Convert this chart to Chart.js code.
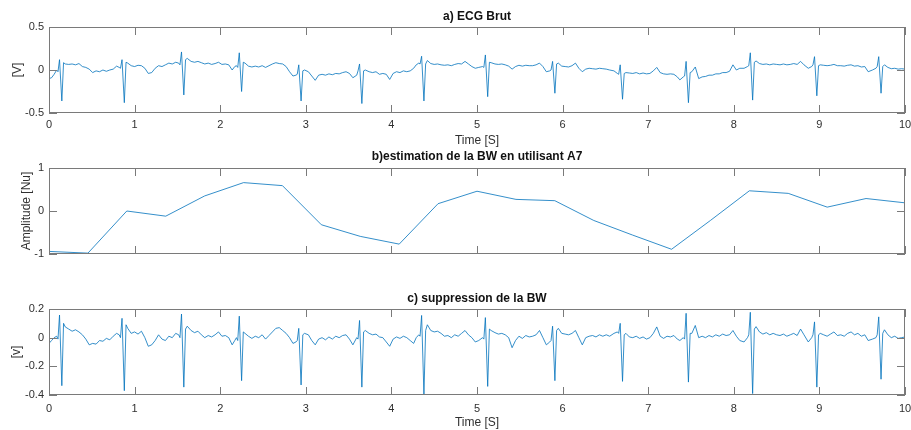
<!DOCTYPE html>
<html>
<head>
<meta charset="utf-8">
<script src="https://cdn.jsdelivr.net/npm/chart.js@4.4.1/dist/chart.umd.min.js"></script>
<style>
  body { margin: 0; background: #fff; }
  #wrap { position: relative; width: 911px; height: 430px; }
  canvas { position: absolute; left: 0; }
</style>
</head>
<body>
<div id="wrap">
  <canvas id="ecgBrut" width="911" height="150" style="top:0px"></canvas>
  <canvas id="bwEstim" width="911" height="140" style="top:140px"></canvas>
  <canvas id="ecgFilt" width="911" height="150" style="top:280px"></canvas>
</div>
<script>
// axis ticks
const xTicks = [0, 1, 2, 3, 4, 5, 6, 7, 8, 9, 10];
const yTicksBrut = [-0.5, 0, 0.5];
const yTicksBw = [-1, 0, 1];
const yTicksFilt = [-0.4, -0.2, 0, 0.2];

// time of the ECG samples (s), one line per beat
const ecgTime = [
  0, 0.03, 0.06,
  0.09, 0.105, 0.123, 0.15, 0.17, 0.19,
  0.23, 0.27, 0.31, 0.35, 0.39, 0.43, 0.47, 0.51, 0.55, 0.59, 0.63, 0.67, 0.71, 0.75, 0.79,
  0.82, 0.835, 0.853, 0.88, 0.9, 0.92,
  0.96, 1, 1.04, 1.08, 1.12, 1.16, 1.2, 1.24, 1.28, 1.32, 1.36, 1.4, 1.44, 1.48,
  1.515, 1.53, 1.548, 1.575, 1.595, 1.615,
  1.66, 1.7, 1.74, 1.78, 1.82, 1.86, 1.9, 1.94, 1.98, 2.02, 2.06, 2.1, 2.14, 2.17,
  2.19, 2.205, 2.223, 2.25, 2.27, 2.29,
  2.33, 2.37, 2.41, 2.45, 2.49, 2.53, 2.57, 2.61, 2.65, 2.69, 2.73, 2.77, 2.81, 2.85,
  2.885, 2.9, 2.918, 2.945, 2.965, 2.985,
  3.03, 3.07, 3.11, 3.15, 3.19, 3.23, 3.27, 3.31, 3.35, 3.39, 3.43, 3.47, 3.51, 3.55,
  3.595, 3.61, 3.628, 3.655, 3.675, 3.695,
  3.74, 3.78, 3.82, 3.86, 3.9, 3.94, 3.98, 4.02, 4.06, 4.1, 4.14, 4.18, 4.22, 4.26, 4.29,
  4.32, 4.335, 4.353, 4.38, 4.4, 4.42,
  4.46, 4.5, 4.54, 4.58, 4.62, 4.66, 4.7, 4.74, 4.78, 4.82, 4.86, 4.9, 4.94, 4.98, 5.02,
  5.065, 5.08, 5.098, 5.125, 5.145, 5.165,
  5.21, 5.25, 5.29, 5.33, 5.37, 5.41, 5.45, 5.49, 5.53, 5.57, 5.61, 5.65, 5.69, 5.73, 5.77, 5.81,
  5.85, 5.865, 5.883, 5.91, 5.93, 5.95,
  5.99, 6.03, 6.07, 6.11, 6.15, 6.19, 6.23, 6.27, 6.31, 6.35, 6.39, 6.43, 6.47, 6.51, 6.55, 6.6,
  6.64, 6.655, 6.673, 6.7, 6.72, 6.74,
  6.78, 6.82, 6.86, 6.9, 6.94, 6.98, 7.02, 7.06, 7.1, 7.14, 7.18, 7.22, 7.26, 7.3, 7.34, 7.37,
  7.41, 7.425, 7.443, 7.47, 7.49, 7.51,
  7.55, 7.59, 7.63, 7.67, 7.71, 7.75, 7.79, 7.83, 7.87, 7.91, 7.95, 7.99, 8.03, 8.07, 8.12,
  8.16, 8.175, 8.193, 8.22, 8.24, 8.26,
  8.3, 8.34, 8.38, 8.42, 8.46, 8.5, 8.54, 8.58, 8.62, 8.66, 8.7, 8.74, 8.78, 8.82, 8.87,
  8.91, 8.925, 8.943, 8.97, 8.99, 9.01,
  9.05, 9.09, 9.13, 9.17, 9.21, 9.25, 9.29, 9.33, 9.37, 9.41, 9.45, 9.49, 9.53, 9.57, 9.62,
  9.66, 9.675, 9.693, 9.72, 9.74, 9.76,
  9.8, 9.84, 9.88, 9.92, 9.96, 10
];

// a) raw ECG [V]
const ecgBrut = [
  -0.1, -0.09, -0.05,
  0, -0.02, 0.12, -0.36, 0.085, 0.07,
  0.065, 0.07, 0.06, 0.075, 0.04, 0.03, 0.01, -0.03, -0.01, -0.02, 0, -0.015, 0, 0.01, 0.045,
  0.03, 0.02, 0.12, -0.38, 0.09, 0.08,
  0.05, 0.04, 0.055, 0.05, 0.02, -0.04, -0.03, 0.02, 0.05, 0.04, 0.06, 0.08, 0.07, 0.09,
  0.08, 0.06, 0.21, -0.29, 0.12, 0.135,
  0.1, 0.09, 0.1, 0.085, 0.07, 0.08, 0.065, 0.075, 0.09, 0.065, 0.07, 0.06, 0, 0.04,
  0.05, 0.03, 0.2, -0.25, 0.09, 0.08,
  0.045, 0.035, 0.045, 0.035, 0.05, 0.03, 0.05, 0.07, 0.085, 0.075, 0.07, 0.04, -0.02, -0.07,
  -0.06, -0.05, 0.06, -0.36, -0.01, 0,
  -0.02, -0.07, -0.12, -0.06, -0.05, -0.06, -0.045, -0.055, -0.04, -0.045, -0.03, -0.02, -0.04, -0.09,
  -0.06, -0.01, 0.07, -0.39, -0.01, 0,
  -0.02, -0.03, -0.02, -0.05, -0.04, -0.05, -0.11, -0.04, -0.02, -0.03, -0.01, -0.02, -0.01, 0.02, 0.06,
  0.08, 0.07, 0.16, -0.36, 0.07, 0.11,
  0.075, 0.065, 0.07, 0.06, 0.055, 0.06, 0.05, 0.065, 0.075, 0.07, 0.1, 0.07, 0.04, 0.02, 0.03,
  0.04, 0.03, 0.175, -0.31, 0.09, 0.085,
  0.07, 0.065, 0.07, 0.06, 0.045, 0.01, 0.04, 0.055, 0.045, 0.055, 0.05, 0.05, 0.06, 0.08, 0.04, -0.02,
  -0.01, 0, 0.1, -0.27, 0.07, 0.08,
  0.045, 0.04, 0.035, 0.05, 0.08, 0.02, -0.02, 0.01, 0.02, 0.015, 0.01, 0.02, 0.015, 0.01, 0, -0.01,
  -0.04, -0.05, 0.06, -0.34, -0.04, -0.03,
  -0.035, -0.04, -0.03, -0.045, -0.035, -0.045, -0.04, -0.01, 0.03, -0.03, -0.045, -0.05, -0.045, -0.05, -0.08, -0.115,
  -0.08, -0.07, 0.1, -0.38, -0.03, -0.02,
  0.035, -0.1, -0.08, -0.075, -0.06, -0.06, -0.045, -0.045, -0.03, -0.03, -0.015, 0.06, 0, 0.02, 0.02,
  0.04, 0.05, 0.2, -0.35, 0.09, 0.105,
  0.075, 0.065, 0.07, 0.06, 0.07, 0.065, 0.06, 0.07, 0.06, 0.065, 0.075, 0.065, 0.1, 0.06, 0.02,
  0.04, 0.06, 0.155, -0.3, 0.05, 0.06,
  0.055, 0.05, 0.055, 0.065, 0.05, 0.05, 0.045, 0.055, 0.06, 0.045, 0.05, 0.035, 0.04, -0.02, 0,
  0.02, 0.04, 0.155, -0.27, 0.04, 0.06,
  0.03, 0.015, 0.02, 0.01, 0.015, 0.01
];

// c) ECG after baseline wander removal [v]
const ecgFilt = [
  -0.04, -0.02, 0,
  0.01, -0.01, 0.158, -0.335, 0.1, 0.075,
  0.06, 0.045, 0.055, 0.04, 0.02, -0.01, -0.05, -0.04, -0.045, -0.02, -0.025, -0.005, -0.015, 0.01, 0.03,
  0.02, 0, 0.135, -0.37, 0.09, 0.065,
  0.03, 0.04, 0.025, 0.045, 0, -0.06, -0.05, -0.02, 0.02, -0.01, -0.02, 0.01, 0, 0.03,
  0.02, 0, 0.165, -0.345, 0.06, 0.08,
  0.05, 0.035, 0.045, 0.02, 0, 0.015, 0.005, 0.02, 0.04, 0.01, 0.015, 0, -0.05, -0.02,
  0, -0.02, 0.15, -0.3, 0.04, 0.03,
  0.01, -0.005, 0.01, 0, 0.02, -0.01, 0.015, 0.04, 0.065, 0.07, 0.05, 0.03, 0, -0.04,
  -0.03, -0.02, 0.065, -0.33, 0.02, 0.03,
  0.02, -0.02, -0.05, -0.01, 0, -0.015, 0.005, -0.01, 0.01, 0, 0.015, 0.02, -0.01, -0.05,
  0, -0.01, 0.12, -0.345, 0.04, 0.05,
  0.03, 0.02, 0.025, 0.005, 0, -0.03, -0.06, -0.01, 0.005, -0.005, 0.01, 0, -0.02, -0.04, 0,
  0.02, 0.01, 0.155, -0.395, 0.05, 0.09,
  0.05, 0.04, 0.045, 0.03, 0.01, 0.015, 0, 0.02, 0.01, 0.03, 0.05, 0.02, 0, -0.03, -0.02,
  0, -0.01, 0.14, -0.34, 0.06, 0.05,
  0.035, 0.025, 0.03, 0.02, 0, -0.07, -0.02, 0.01, -0.005, 0.015, 0.005, 0.01, 0.02, 0.05, 0, -0.05,
  -0.03, -0.02, 0.08, -0.3, 0.05, 0.065,
  0.03, 0.025, 0.02, 0.03, 0.05, 0, -0.05, 0, 0.01, 0.015, 0.005, 0.02, 0.01, 0.02, 0.01, 0.03,
  0.04, 0.03, 0.1, -0.305, 0.02, 0.03,
  0.005, 0, 0.01, -0.005, 0.005, -0.01, 0, 0.03, 0.075, 0.01, -0.005, 0.01, 0.005, 0.015, -0.01, -0.02,
  0, -0.01, 0.17, -0.31, 0.03, 0.03,
  0.085, 0, 0.01, 0, 0.015, 0.005, 0.02, 0.01, 0.025, 0.015, 0.02, 0.05, 0.01, -0.02, -0.03,
  0, 0.02, 0.177, -0.39, 0.06, 0.077,
  0.04, 0.025, 0.035, 0.02, 0.03, 0.02, 0.015, 0.025, 0.01, 0.02, 0.03, 0.015, 0.06, 0.02, -0.03,
  0, 0.02, 0.11, -0.345, 0.02, 0.03,
  0.02, 0.01, 0.025, 0.04, 0.015, 0.02, 0.01, 0.03, 0.04, 0.02, 0.03, 0.01, 0.02, -0.02, -0.01,
  0, 0.02, 0.145, -0.29, 0.03, 0.055,
  0.02, 0, 0.01, -0.005, 0, 0.005
];

// b) BW estimate (A7 approximation)
const bwTime = [0, 0.455, 0.909, 1.364, 1.818, 2.273, 2.727, 3.182, 3.636, 4.091, 4.545, 5.0,
  5.455, 5.909, 6.364, 6.818, 7.273, 7.727, 8.182, 8.636, 9.091, 9.545, 10];
const bwAmp = [-0.94, -0.98, 0.0, -0.12, 0.35, 0.66, 0.59, -0.32, -0.59, -0.77, 0.17, 0.46,
  0.27, 0.24, -0.22, -0.56, -0.89, -0.22, 0.47, 0.41, 0.09, 0.29, 0.19];

if (ecgTime.length !== ecgBrut.length || ecgTime.length !== ecgFilt.length)
  console.log('longueurs differentes', ecgTime.length, ecgBrut.length, ecgFilt.length);

Chart.defaults.font.family = '"Liberation Sans", Arial, Helvetica, sans-serif';
const LINE_COLOR = '#0072BD';
const AXIS_COLOR = '#7a7a7a';
const TEXT_COLOR = '#303030';

// box + inward ticks + bold title, MATLAB style
const matlabAxes = {
  id: 'matlabAxes',
  afterDatasetsDraw(chart, args, opts) {
    const { ctx, chartArea: a, scales: { x, y } } = chart;
    const tl = 8;
    ctx.save();
    ctx.strokeStyle = AXIS_COLOR;
    ctx.lineWidth = 1;
    ctx.beginPath();
    x.ticks.forEach(t => {
      const px = Math.round(x.getPixelForValue(t.value)) + 0.5;
      ctx.moveTo(px, a.bottom); ctx.lineTo(px, a.bottom - tl);
      ctx.moveTo(px, a.top); ctx.lineTo(px, a.top + tl);
    });
    y.ticks.forEach(t => {
      const py = Math.round(y.getPixelForValue(t.value)) + 0.5;
      ctx.moveTo(a.left, py); ctx.lineTo(a.left + tl, py);
      ctx.moveTo(a.right, py); ctx.lineTo(a.right - tl, py);
    });
    ctx.stroke();
    ctx.strokeRect(Math.round(a.left) + 0.5, Math.round(a.top) + 0.5,
      Math.round(a.width) - 1, Math.round(a.height) - 1);
    ctx.font = 'bold 12px "Liberation Sans", Arial, sans-serif';
    ctx.fillStyle = '#111';
    ctx.textAlign = 'center';
    ctx.textBaseline = 'middle';
    ctx.fillText(opts.title, (a.left + a.right) / 2, a.top - opts.titleGap);
    ctx.restore();
  }
};

function buildChart(id, times, values, yMin, yMax, yTicks, o) {
  const pts = times.map((t, i) => ({ x: t, y: values[i] }));
  return new Chart(document.getElementById(id), {
    type: 'line',
    data: {
      datasets: [{
        data: pts,
        borderColor: LINE_COLOR,
        borderWidth: 0.8,
        pointRadius: 0,
        tension: 0,
        fill: false
      }]
    },
    options: {
      responsive: false,
      animation: false,
      events: [],
      layout: { padding: { top: o.top, right: 6, left: 0, bottom: 0 } },
      plugins: {
        legend: { display: false },
        tooltip: { enabled: false },
        matlabAxes: { title: o.title, titleGap: o.titleGap }
      },
      scales: {
        x: {
          type: 'linear',
          min: 0,
          max: 10,
          afterBuildTicks: s => { s.ticks = xTicks.map(v => ({ value: v })); },
          afterFit: s => { s.height = o.xHeight; s.paddingLeft = 0; s.paddingRight = 0; },
          grid: { display: false, drawTicks: false },
          border: { display: false },
          ticks: {
            display: o.showX,
            padding: o.xPad,
            color: TEXT_COLOR,
            font: { size: 11 },
            maxRotation: 0,
            autoSkip: false,
            callback: v => String(v)
          },
          title: {
            display: o.showX,
            text: 'Time [S]',
            color: TEXT_COLOR,
            font: { size: 12 },
            padding: { top: 0, bottom: o.xTitlePad }
          }
        },
        y: {
          min: yMin,
          max: yMax,
          afterBuildTicks: s => { s.ticks = yTicks.map(v => ({ value: v })); },
          afterFit: s => { s.width = 49; s.paddingTop = 0; s.paddingBottom = 0; },
          grid: { display: false, drawTicks: false },
          border: { display: false },
          ticks: {
            padding: 5,
            color: TEXT_COLOR,
            font: { size: 11 },
            callback: v => String(v)
          },
          title: {
            display: true,
            text: o.yLabel,
            color: TEXT_COLOR,
            font: { size: 12 },
            padding: { top: o.yTitlePad, bottom: 0 }
          }
        }
      }
    },
    plugins: [matlabAxes]
  });
}

buildChart('ecgBrut', ecgTime, ecgBrut, -0.5, 0.5, yTicksBrut, {
  top: 27, xHeight: 37, showX: true, xPad: 5, xTitlePad: 2,
  yLabel: '[V]', yTitlePad: 10, title: 'a) ECG Brut', titleGap: 10
});
buildChart('bwEstim', bwTime, bwAmp, -1, 1, yTicksBw, {
  top: 28, xHeight: 26, showX: false, xPad: 5, xTitlePad: 0,
  yLabel: 'Amplitude [Nu]', yTitlePad: 19, title: 'b)estimation de la BW en utilisant A7', titleGap: 11
});
buildChart('ecgFilt', ecgTime, ecgFilt, -0.4, 0.2, yTicksFilt, {
  top: 29, xHeight: 35, showX: true, xPad: 7, xTitlePad: 0,
  yLabel: '[v]', yTitlePad: 9, title: 'c) suppression de la BW', titleGap: 10
});
</script>
</body>
</html>
